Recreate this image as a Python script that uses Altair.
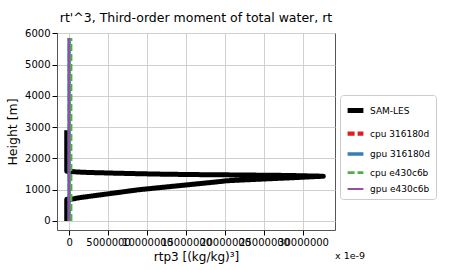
import altair as alt
import pandas as pd

# SAM-LES profile (x in units of 1e-9 (kg/kg)^3, height in m)
sam_height = [0, 200, 400, 600, 690, 700, 750, 800, 850, 900, 950, 1000, 1050, 1100,
              1150, 1200, 1250, 1285, 1330, 1380, 1430, 1455, 1470, 1480, 1495,
              1510, 1530, 1550, 1565, 1580, 1592, 1800, 2200, 2600, 2900]
sam_rtp3 = [-0.3e6, -0.3e6, -0.3e6, -0.3e6, -0.3e6, 0.4e6, 1.5e6, 3.0e6, 4.5e6, 6.0e6,
            7.5e6, 9.0e6, 11.0e6, 13.0e6, 15.0e6, 17.0e6, 19.0e6, 20.2e6, 24.0e6,
            28.5e6, 32.6e6, 28.0e6, 22.0e6, 17.0e6, 12.0e6, 9.0e6, 5.5e6, 2.5e6,
            1.0e6, 0.4e6, -0.3e6, -0.3e6, -0.3e6, -0.3e6, -0.3e6]

# model profiles (all close to zero)
model_height = [0, 1000, 2000, 3000, 4000, 5000, 5850]
cpu_316180d = [0.1e6, 0.1e6, 0.1e6, 0.1e6, 0.1e6, 0.1e6, 0.1e6]
gpu_316180d = [0.0, 0.0, 0.0, 0.0, 0.0, 0.0, 0.0]
cpu_e430c6b = [0.25e6, 0.25e6, 0.25e6, 0.25e6, 0.25e6, 0.25e6, 0.25e6]
gpu_e430c6b = [0.0, 0.0, 0.0, 0.0, 0.0, 0.0, 0.0]

series_names = ["SAM-LES", "cpu 316180d", "gpu 316180d", "cpu e430c6b", "gpu e430c6b"]
series_colors = ["#000000", "#e41a1c", "#377eb8", "#4daf4a", "#984ea3"]
series_dash = [[1, 0], [7, 3], [1, 0], [7, 3], [1, 0]]
series_width = [5, 2, 2, 2, 2]

rows = []
for i, (h, v) in enumerate(zip(sam_height, sam_rtp3)):
    rows.append({"series": "SAM-LES", "h": h, "x": v, "o": i})
for name, vals in zip(series_names[1:], [cpu_316180d, gpu_316180d, cpu_e430c6b, gpu_e430c6b]):
    for i, (h, v) in enumerate(zip(model_height, vals)):
        rows.append({"series": name, "h": h, "x": v, "o": i})
df = pd.DataFrame(rows)

x_ticks = [0, 5000000, 10000000, 15000000, 20000000, 25000000, 30000000]
y_ticks = [0, 1000, 2000, 3000, 4000, 5000, 6000]
FONT = "DejaVu Sans"

xs = alt.X("x:Q", scale=alt.Scale(domain=[-1.55e6, 34.1e6], nice=False, zero=False),
           axis=alt.Axis(values=x_ticks, format="d", title="rtp3 [(kg/kg)³]",
                         labelFontSize=10, titleFontSize=12, titleFontWeight="normal",
                         labelFont=FONT, titleFont=FONT, labelOverlap=False,
                         labelColor="#000", titleColor="#000", tickColor="#000",
                         domain=False, gridColor="#d0d0d0", labelFlush=False,
                         titlePadding=4))
ys = alt.Y("h:Q", scale=alt.Scale(domain=[-290, 6010], nice=False, zero=False),
           axis=alt.Axis(values=y_ticks, format="d", title="Height [m]",
                         labelFontSize=10, titleFontSize=12.5, titleFontWeight="normal",
                         labelFont=FONT, titleFont=FONT, labelOverlap=False,
                         labelColor="#000", titleColor="#000", tickColor="#000",
                         domain=False, gridColor="#d0d0d0", labelFlush=False,
                         titlePadding=5))

legend = alt.Legend(title=None, orient="none", legendX=283, legendY=62,
                    symbolType="stroke", symbolSize=250, labelFontSize=9,
                    labelColor="#000", rowPadding=2, padding=5,
                    strokeColor="#cccccc", fillColor="#ffffff", cornerRadius=3,
                    labelFont=FONT)

enc = dict(
    x=xs, y=ys, order="o:Q",
    color=alt.Color("series:N", scale=alt.Scale(domain=series_names, range=series_colors), legend=legend),
    strokeDash=alt.StrokeDash("series:N", scale=alt.Scale(domain=series_names, range=series_dash), legend=legend),
    strokeWidth=alt.StrokeWidth("series:N", scale=alt.Scale(domain=series_names, range=series_width), legend=legend),
    detail="series:N",
)

sam = alt.Chart(df[df.series == "SAM-LES"]).mark_line(strokeCap="butt", strokeJoin="round").encode(**enc)
models = alt.Chart(df[df.series != "SAM-LES"]).mark_line(strokeCap="butt").encode(**enc)

note = alt.Chart(pd.DataFrame({"t": ["x 1e-9"]})).mark_text(
    align="left", baseline="alphabetic", fontSize=9.5, font=FONT, color="#000"
).encode(x=alt.value(278), y=alt.value(226), text="t:N")

chart = alt.layer(sam, models, note).properties(
    width=278, height=197,
    background="white",
    view=alt.ViewBackground(stroke="#555555", strokeWidth=1),
    title=alt.TitleParams("rt'^3, Third-order moment of total water, rt", fontSize=12.5,
                          fontWeight="normal", font=FONT, color="#000", offset=4),
    autosize=alt.AutoSizeParams(type="none"),
    padding={"left": 57, "top": 33, "right": 115, "bottom": 40},
)

chart.save("out.html", embed_options={"renderer": "svg", "actions": False})
